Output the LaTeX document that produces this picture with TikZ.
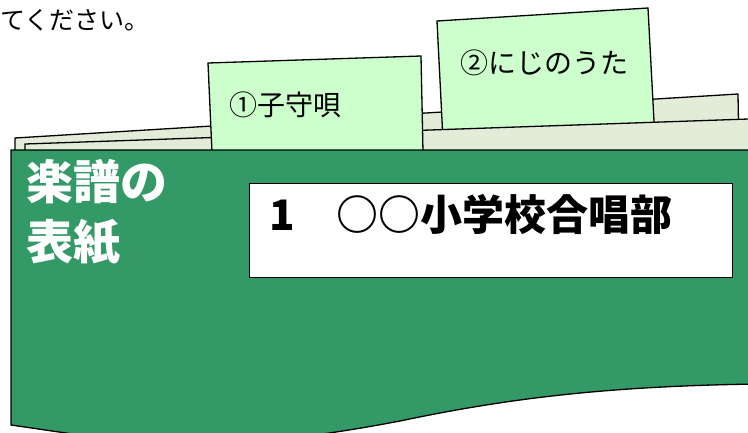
\documentclass[tikz,border=0pt]{standalone}
\usepackage{fontspec}
\newfontfamily\jpfont{Noto Sans CJK JP}
\definecolor{covergreen}{RGB}{51,153,102}
\definecolor{tabgreen}{RGB}{204,255,204}
\definecolor{sheetgray}{RGB}{226,236,216}
\begin{document}
\begin{tikzpicture}[x=1pt,y=1pt,yscale=-1,xscale=1,
  sheet/.style={draw=black,fill=sheetgray,line width=1.3},
  tabcard/.style={draw=black,fill=tabgreen,line width=1.3},
  tablabel/.style={inner sep=0.75pt,font=\jpfont\fontsize{28}{32}\selectfont}]
        \useasboundingbox (0,0) rectangle (748,432);

        % Text Node
        \node [anchor=west,inner sep=0pt,font=\jpfont\fontsize{25}{29}\selectfont] (intro) at (0,20) {てください。};

        %Shape: Polygon (back sheet)
        \draw [sheet] (15,152) -- (15,138) -- (738,94) -- (739,152) -- cycle;
        %Shape: Polygon (tab 2)
        \draw [tabcard] (443,140) -- (437,21) -- (648,8) -- (655,140) -- cycle;
        %Shape: Polygon (front sheet)
        \draw [sheet] (25,152) -- (25,144) -- (760,118.6) -- (760,152) -- cycle;
        %Shape: Polygon (tab 1)
        \draw [tabcard] (212,152) -- (208,63) -- (421,56) -- (423,152) -- cycle;

        %Shape: Cover
        \draw [draw=black,fill=covergreen,line width=1.3] (11,150) -- (760,150) -- (760,384)
            .. controls (600,386) and (500,400) .. (400,421)
            .. controls (300,440) and (200,452) .. (100,438) -- (11,425) -- cycle;

        % Text Node
        \node [tablabel] (tabone) at (285,105) {①子守唄};
        \node [tablabel] (tabtwo) at (544,63) {②にじのうた};

        % Text Node
        \node [anchor=north west,inner sep=0pt,align=left,text=white,font=\jpfont\bfseries\fontsize{47}{60}\selectfont] (covertitle) at (26,159) {楽譜の\\表紙};

        %Shape: Rectangle
        \node [draw=black,fill=white,line width=1,anchor=north west,inner sep=0pt,minimum width=483pt,minimum height=94pt] (titlebox) at (249,183) {};
        \node [anchor=west,inner sep=0pt,font=\jpfont\bfseries\fontsize{42}{48}\selectfont] (titletext) at (269,214) {1　○○小学校合唱部};

    \end{tikzpicture}
\end{document}
